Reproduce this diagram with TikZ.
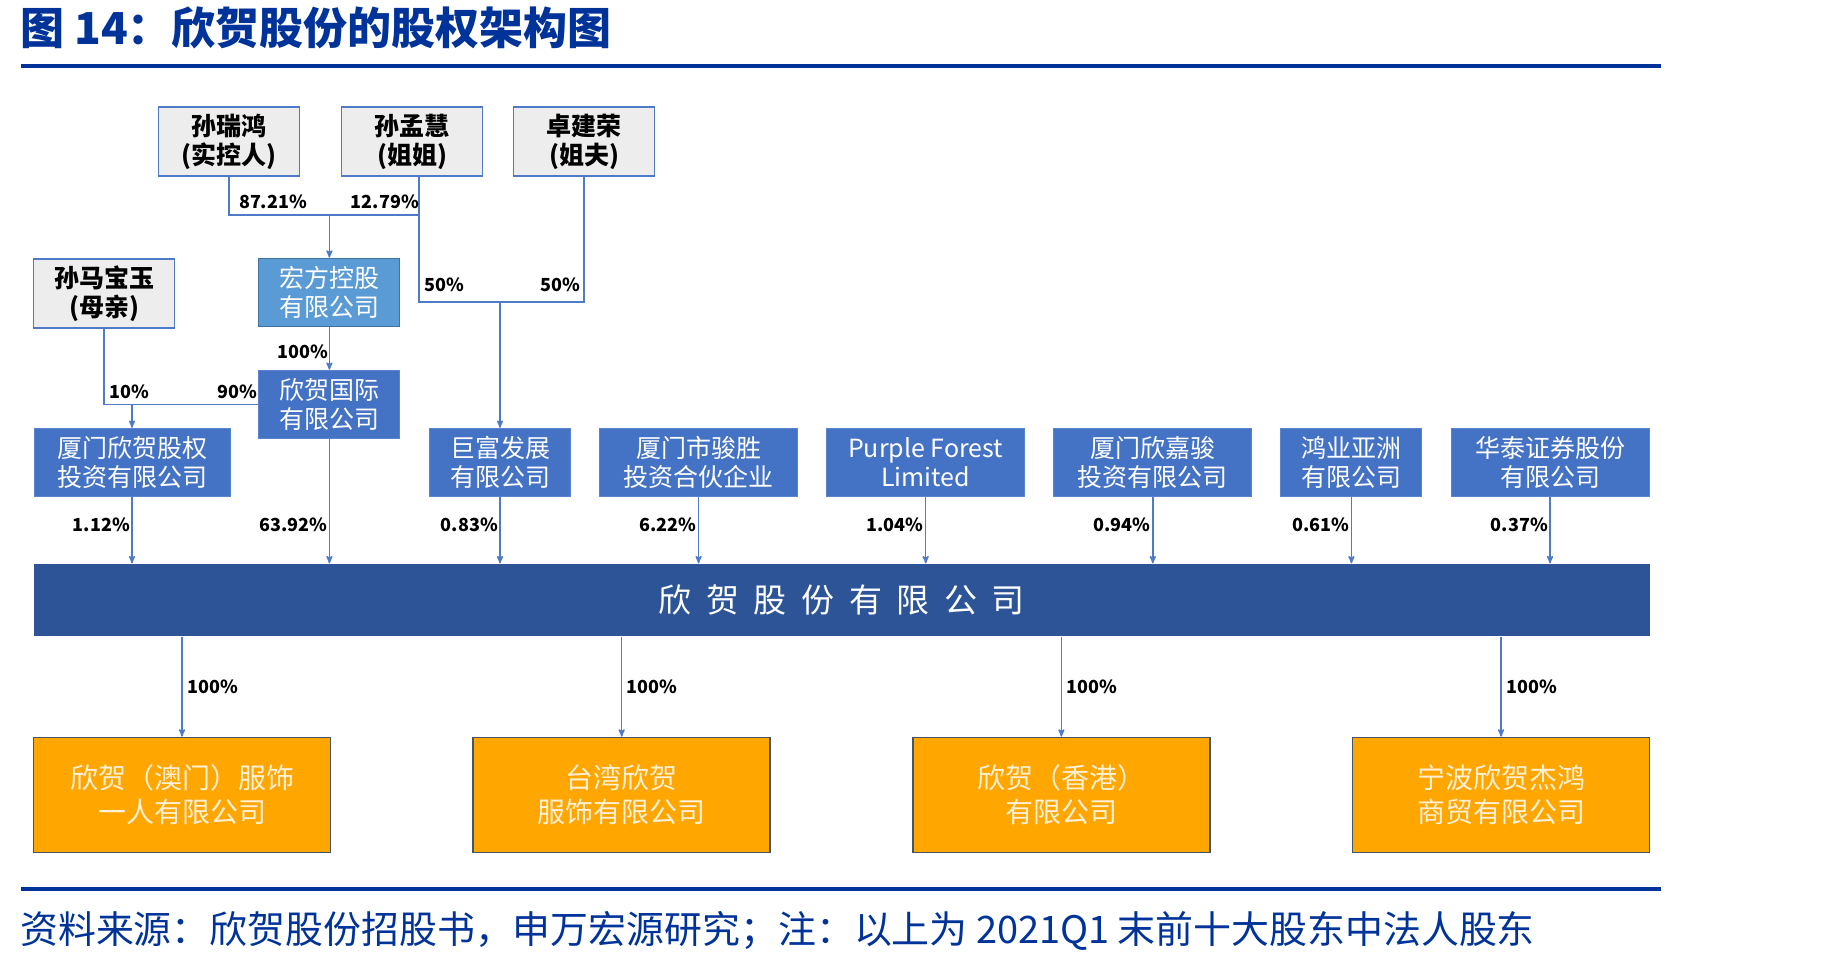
\documentclass[tikz,border=0pt]{standalone}
\usepackage{fontspec}
\setmainfont{Noto Sans CJK SC}
\usetikzlibrary{positioning}
\usetikzlibrary{arrows}
\usetikzlibrary{calc}

\definecolor{titleblue}{RGB}{0,51,153}
\definecolor{lineblue}{RGB}{78,122,200}
\definecolor{greyfill}{RGB}{237,237,237}
\definecolor{midblue}{RGB}{91,155,213}
\definecolor{boxblue}{RGB}{68,114,196}
\definecolor{barblue}{RGB}{45,84,150}
\definecolor{orangefill}{RGB}{255,166,0}
\definecolor{slate}{RGB}{68,84,106}
\definecolor{cream}{RGB}{255,240,214}

\tikzset{>=stealth'}
\tikzset{link/.style={draw=lineblue, line width=1.5pt}}
\tikzset{person/.style={draw=lineblue, line width=1.5pt, fill=greyfill, minimum width=141pt, minimum height=69pt, inner sep=0pt, align=center, font=\fontsize{25}{29}\selectfont\bfseries}}
\tikzset{hold/.style={draw={rgb,255:red,90;green,132;blue,206}, line width=1pt, fill=boxblue, text=white, minimum width=141pt, minimum height=68.5pt, inner sep=0pt, align=center, font=\fontsize{25}{29}\selectfont}}
\tikzset{wide/.style={minimum width=198pt}}
\tikzset{sub/.style={draw=slate, line width=1.5pt, fill=orangefill, text=cream, minimum width=297pt, minimum height=115pt, inner sep=0pt, align=center, font=\fontsize{28}{34}\selectfont}}
\tikzset{pct/.style={inner sep=2pt, font=\fontsize{18}{20}\selectfont\bfseries}}

\begin{document}
\begin{tikzpicture}[x=1pt, y=-1pt]
\useasboundingbox (0,0) rectangle (1841,964);

\node[anchor=west, inner sep=0pt, text=titleblue, font=\fontsize{44}{48}\selectfont\bfseries] (title) at (20,28) {图 14：欣贺股份的股权架构图};
\draw[titleblue, line width=3.5pt] (21,66) -- (1661,66);

% shareholders
\node[person] (srh) at (229,141.5) {孙瑞鸿\\(实控人)};
\node[person] (smh) at (412,141.5) {孙孟慧\\(姐姐)};
\node[person] (zjr) at (584,141.5) {卓建荣\\(姐夫)};
\node[person] (smby) at (104,293.5) {孙马宝玉\\(母亲)};

\node[hold, fill=midblue, draw={rgb,255:red,65;green,113;blue,156}] (hf) at (329.4,292.4) {宏方控股\\有限公司};
\node[hold] (gj) at (329.4,404.5) {欣贺国际\\有限公司};

\node[hold, minimum width=196pt] (xmgq) at (132,462.6) {厦门欣贺股权\\投资有限公司};
\node[hold] (jf) at (500,462.6) {巨富发展\\有限公司};
\node[hold, wide, right=28.1pt of jf] (js) {厦门市骏胜\\投资合伙企业};
\node[hold, wide, right=28.1pt of js] (pf) {Purple Forest\\Limited};
\node[hold, wide, right=28.1pt of pf] (xjj) {厦门欣嘉骏\\投资有限公司};
\node[hold, right=28.1pt of xjj] (hy) {鸿业亚洲\\有限公司};
\node[hold, wide, right=28.1pt of hy] (ht) {华泰证券股份\\有限公司};

\node[fill=barblue, text=white, minimum width=1615.6pt, minimum height=72.8pt, inner sep=0pt, font=\fontsize{33}{36}\selectfont\addfontfeature{LetterSpace=44}] (xh) at (841.8,600) {欣贺股份有限公司};

% subsidiaries
\node[sub] (am) at (182,794.9) {欣贺（澳门）服饰\\一人有限公司};
\node[sub, right=141.2pt of am] (tw) {台湾欣贺\\服饰有限公司};
\node[sub, right=141.2pt of tw] (xg) {欣贺（香港）\\有限公司};
\node[sub, right=141.2pt of xg] (nb) {宁波欣贺杰鸿\\商贸有限公司};

% upper links
\coordinate (j1) at (hf.north |- 0,215);
\coordinate (j2) at (jf.north |- 0,302);
\coordinate (j3) at (xmgq.north |- gj.west);
\draw[link] (srh.south) |- ([xshift=7pt]smh.south |- j1);
\draw[link,->] (j1) -- (hf.north);
\draw[link] ([xshift=7pt]smh.south) |- (zjr.south |- j2) -- (zjr.south);
\draw[link,->] (j2) -- (jf.north);
\draw[link,->] (hf.south) -- (gj.north);
\draw[link] (smby.south) |- (gj.west);
\draw[link,->] (j3) -- (xmgq.north);

\node[pct] (p1) at (273,202) {87.21\%};
\node[pct, anchor=east] (p2) at (421,202) {12.79\%};
\node[pct] (p3) at (444,285) {50\%};
\node[pct] (p4) at (560.6,285) {50\%};
\node[pct] (p5) at (303,352) {100\%};
\node[pct] (p6) at (129,392) {10\%};
\node[pct] (p7) at (237,392) {90\%};

% into the company
\foreach \n/\v in {xmgq/1.12, gj/63.92, jf/0.83, js/6.22, pf/1.04, xjj/0.94, hy/0.61, ht/0.37} {
  \draw[link,->] (\n.south) -- (\n.south |- xh.north);
  \node[pct, anchor=east] (v-\n) at (\n.south |- 0,525) {\v\%};
}

% out of the company
\foreach \n in {am, tw, xg, nb} {
  \draw[link,->] (\n.north |- xh.south) -- (\n.north);
  \node[pct, anchor=west, xshift=3pt] (v-\n) at (\n.north |- 0,687) {100\%};
}

\draw[titleblue, line width=3.5pt] (21,889) -- (1661,889);
\node[anchor=west, inner sep=0pt, text=titleblue, font=\fontsize{37.9}{40}\selectfont] (src) at (20,931) {资料来源：欣贺股份招股书，申万宏源研究；注：以上为 2021Q1 末前十大股东中法人股东};

\end{tikzpicture}
\end{document}
